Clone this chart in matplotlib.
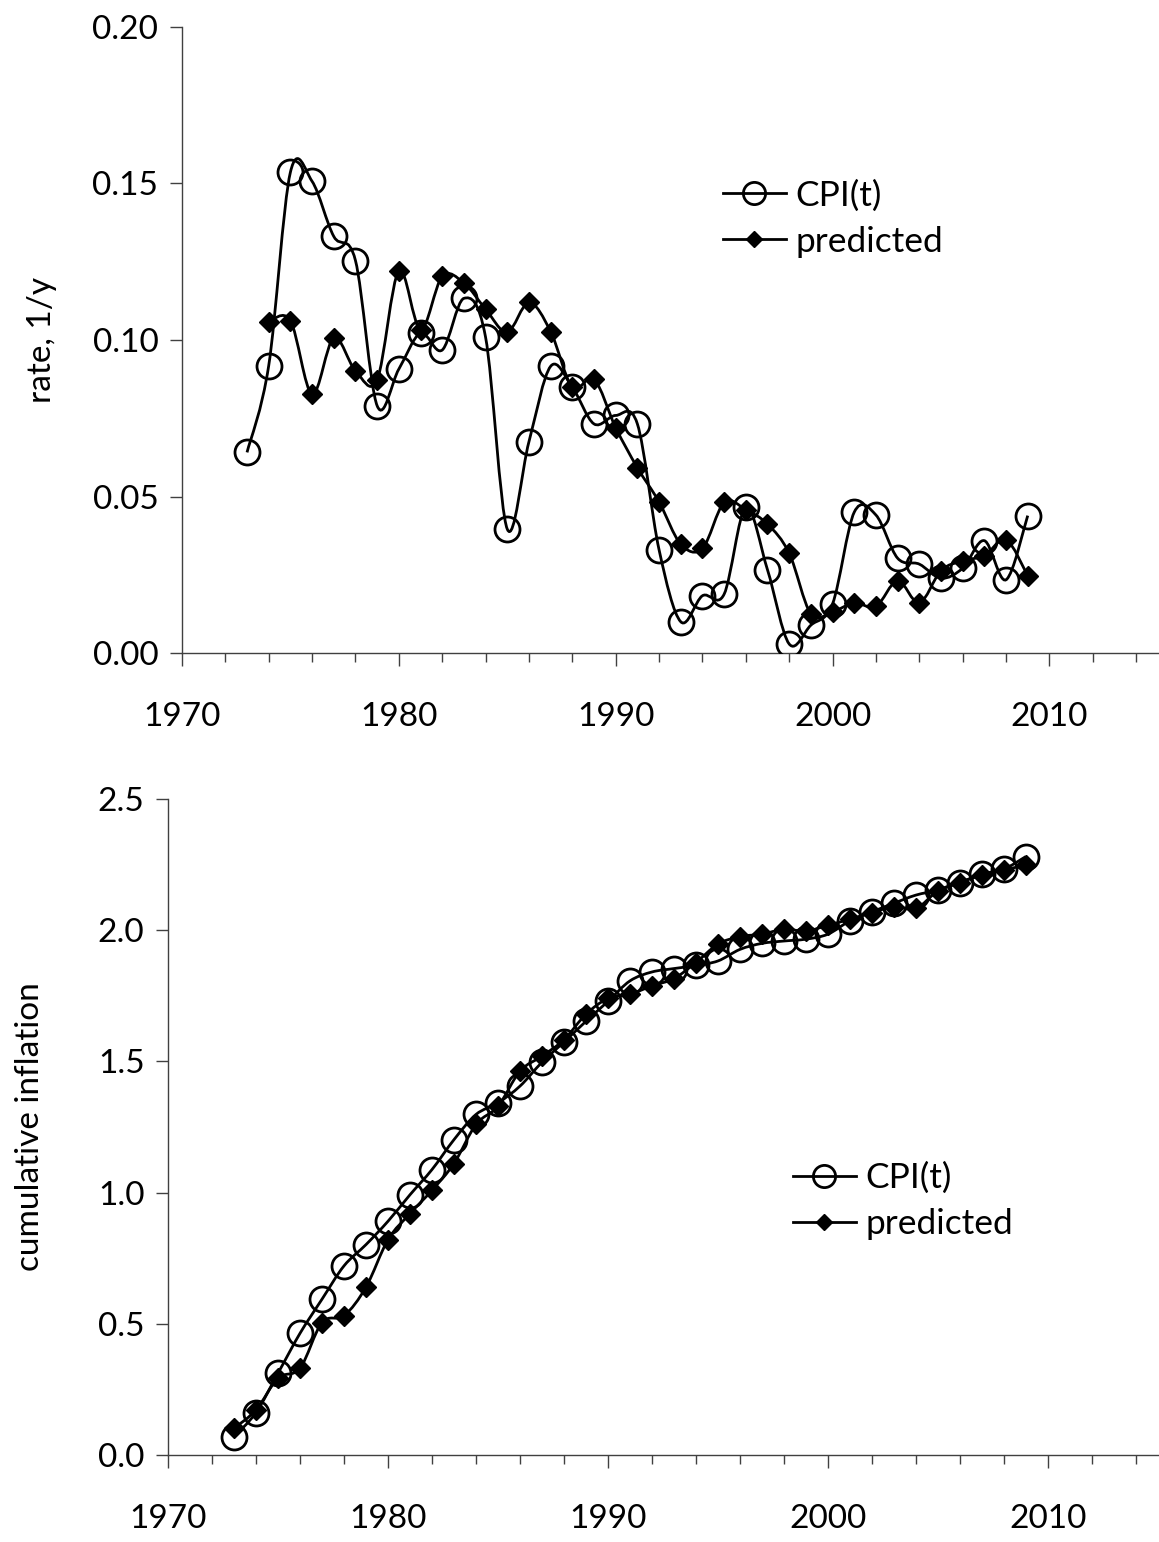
import matplotlib
matplotlib.use('Agg')
import matplotlib.pyplot as plt
from matplotlib.path import Path
from matplotlib.patches import PathPatch
from matplotlib.lines import Line2D
from matplotlib.ticker import MultipleLocator, FormatStrFormatter

plt.rcParams['font.family'] = ['Lato', 'DejaVu Sans']

# data
years = list(range(1973, 2010))

rate_cpi = [0.0641, 0.0918, 0.1536, 0.1507, 0.1331, 0.1254, 0.0790, 0.0907,
            0.1022, 0.0968, 0.1133, 0.1009, 0.0396, 0.0675, 0.0916, 0.0849,
            0.0732, 0.0759, 0.0732, 0.0330, 0.0100, 0.0183, 0.0188, 0.0465,
            0.0266, 0.0029, 0.0089, 0.0157, 0.0450, 0.0441, 0.0303, 0.0284,
            0.0239, 0.0271, 0.0359, 0.0234, 0.0439]

years_pred = list(range(1974, 2010))
rate_pred = [0.1059, 0.1062, 0.0827, 0.1007, 0.0902, 0.0873, 0.1221, 0.1033,
             0.1203, 0.1182, 0.1099, 0.1025, 0.1120, 0.1027, 0.0849, 0.0875,
             0.0720, 0.0592, 0.0483, 0.0348, 0.0334, 0.0481, 0.0458, 0.0412,
             0.0319, 0.0125, 0.0132, 0.0160, 0.0149, 0.0231, 0.0160, 0.0263,
             0.0295, 0.0311, 0.0362, 0.0247]

cum_cpi = [0.070, 0.162, 0.312, 0.464, 0.594, 0.721, 0.802, 0.891, 0.992,
           1.088, 1.202, 1.298, 1.342, 1.406, 1.497, 1.574, 1.653, 1.729,
           1.807, 1.841, 1.854, 1.866, 1.883, 1.927, 1.950, 1.959, 1.966,
           1.985, 2.036, 2.070, 2.103, 2.134, 2.153, 2.182, 2.214, 2.233,
           2.281]

cum_pred = [0.102, 0.172, 0.293, 0.331, 0.505, 0.531, 0.640, 0.821, 0.920,
            1.009, 1.111, 1.260, 1.329, 1.463, 1.520, 1.583, 1.680, 1.740,
            1.756, 1.788, 1.816, 1.877, 1.947, 1.976, 1.985, 2.004, 1.997,
            2.019, 2.042, 2.067, 2.090, 2.083, 2.150, 2.182, 2.210, 2.230,
            2.248]

LW = 2.0
FS = 24


def smooth_line(ax, x, y):
    # Excel-like smoothed line: Catmull-Rom as cubic Bezier segments
    n = len(x)
    verts = [(x[0], y[0])]
    codes = [Path.MOVETO]
    for i in range(n - 1):
        a = i - 1 if i > 0 else i
        d = i + 2 if i + 2 < n else i + 1
        c1 = (x[i] + (x[i + 1] - x[a]) / 6, y[i] + (y[i + 1] - y[a]) / 6)
        c2 = (x[i + 1] - (x[d] - x[i]) / 6, y[i + 1] - (y[d] - y[i]) / 6)
        verts += [c1, c2, (x[i + 1], y[i + 1])]
        codes += [Path.CURVE4] * 3
    ax.add_patch(PathPatch(Path(verts, codes), fill=False, lw=LW,
                           edgecolor='black', zorder=2))


def draw_panel(ax, x1, y1, x2, y2, ymax, ystep, yfmt, ylabel):
    smooth_line(ax, x1, y1)
    ax.plot(x1, y1, ls='none', marker='o', ms=18, mfc='none',
            mec='black', mew=LW, zorder=3)
    smooth_line(ax, x2, y2)
    ax.plot(x2, y2, ls='none', marker='D', ms=10, mfc='black',
            mec='black', zorder=4)

    ax.set_xlim(1970, 2015)
    ax.set_ylim(0, ymax)
    ax.xaxis.set_major_locator(MultipleLocator(10))
    ax.xaxis.set_minor_locator(MultipleLocator(2))
    ax.yaxis.set_major_locator(MultipleLocator(ystep))
    ax.yaxis.set_major_formatter(FormatStrFormatter(yfmt))
    for s in ['top', 'right']:
        ax.spines[s].set_visible(False)
    for s in ['left', 'bottom']:
        ax.spines[s].set_color('#404040')
        ax.spines[s].set_linewidth(1.0)
    ax.tick_params(axis='x', which='major', length=9, width=1,
                   color='#404040', labelsize=FS, pad=26)
    ax.tick_params(axis='x', which='minor', length=6.5, width=1,
                   color='#404040')
    ax.tick_params(axis='y', which='major', length=9, width=1,
                   color='#404040', labelsize=FS, pad=8)
    ax.set_ylabel(ylabel, fontsize=FS)


fig = plt.figure(figsize=(11.59, 15.42), dpi=100)
ax1 = fig.add_axes([0.157, 0.5765, 0.842, 0.406])
ax2 = fig.add_axes([0.145, 0.0564, 0.854, 0.4254])

draw_panel(ax1, years, rate_cpi, years_pred, rate_pred,
           0.20, 0.05, '%.2f', 'rate, 1/y')
draw_panel(ax2, years, cum_cpi, years, cum_pred,
           2.5, 0.5, '%.1f', 'cumulative inflation')
ax1.yaxis.set_label_coords(-0.128, 0.5)
ax2.yaxis.set_label_coords(-0.124, 0.5)

handles = [Line2D([], [], color='black', lw=LW, marker='o', ms=16,
                  mfc='none', mec='black', mew=LW),
           Line2D([], [], color='black', lw=LW, marker='D', ms=8,
                  mfc='black', mec='black')]
labels = ['CPI(t)', 'predicted']
for ax, pos in [(ax1, (0.554, 0.757)), (ax2, (0.631, 0.447))]:
    ax.legend(handles, labels, loc='upper left', bbox_to_anchor=pos,
              frameon=False, fontsize=25.5, handlelength=1.8,
              handletextpad=0.25, labelspacing=0.4, borderpad=0,
              borderaxespad=0)

fig.savefig('out.png', dpi=100)
